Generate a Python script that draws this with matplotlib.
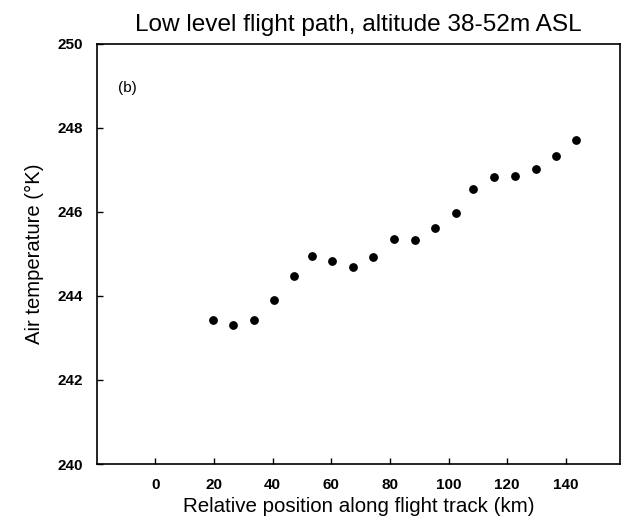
import matplotlib.pyplot as plt
import numpy as np

plt.rcParams['font.family'] = ['Liberation Sans', 'DejaVu Sans']

# position along flight track (km) and air temperature (K)
position_km = [19.5, 26.6, 33.7, 40.5, 47.2, 53.4, 60.3, 67.3, 74.1, 81.5,
               88.5, 95.4, 102.5, 108.5, 115.5, 122.7, 129.8, 136.6, 143.6]
temperature_k = [243.44, 243.31, 243.43, 243.91, 244.47, 244.95, 244.83, 244.68,
                 244.93, 245.35, 245.33, 245.62, 245.97, 246.55, 246.84, 246.86,
                 247.03, 247.34, 247.71]

x_ticks = [0, 20, 40, 60, 80, 100, 120, 140]
y_ticks = [240, 242, 244, 246, 248, 250]

fig = plt.figure(figsize=(6.25, 5.17), dpi=100)
ax = fig.add_axes([0.155, 0.1025, 0.837, 0.8125])

ax.scatter(position_km, temperature_k, s=28, color='black', zorder=3)

ax.set_xlim(-20, 158.5)
ax.set_ylim(240, 250)
ax.set_xticks(x_ticks)
ax.set_yticks(y_ticks)
ax.tick_params(direction='in', length=4, width=1, labelsize=11, pad=10)
for lbl in ax.get_xticklabels() + ax.get_yticklabels():
    lbl.set_fontweight('bold')
for sp in ax.spines.values():
    sp.set_linewidth(1.2)

ax.text(-12.8, 248.96, '(b)', fontsize=11, ha='left', va='center')

ax.set_title('Low level flight path, altitude 38-52m ASL', fontsize=17.6, pad=9)
ax.set_xlabel('Relative position along flight track (km)', fontsize=14.8, labelpad=4)
ax.set_ylabel('Air temperature (°K)', fontsize=14.6, labelpad=10)

fig.savefig('out.png', dpi=100, facecolor='white')
